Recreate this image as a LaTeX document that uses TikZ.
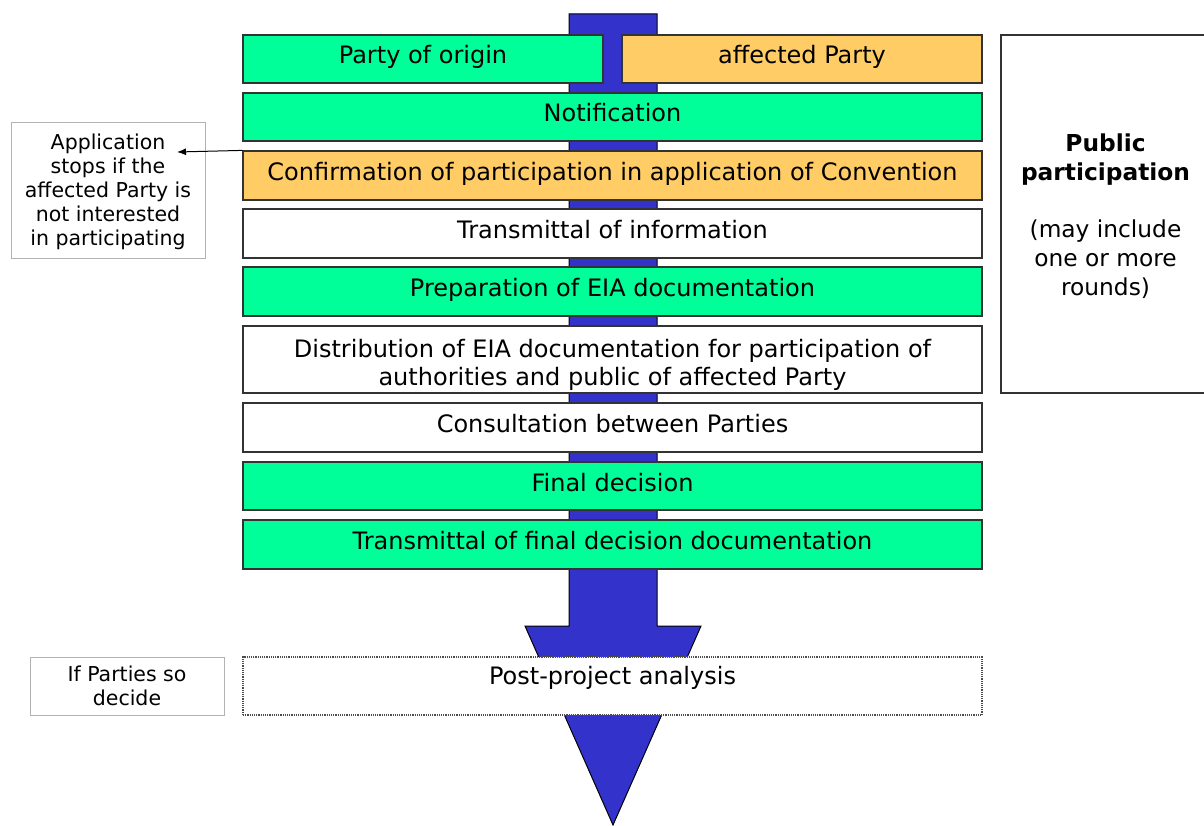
\documentclass[tikz,border=0pt]{standalone}
\usepackage{fontspec}
\setmainfont{DejaVu Sans}
\usetikzlibrary{arrows.meta}
\definecolor{grn}{RGB}{0,255,153}
\definecolor{org}{RGB}{255,204,102}
\definecolor{blu}{RGB}{51,51,204}
\begin{document}
\begin{tikzpicture}[x=1pt,y=-1pt,
  box/.style={draw=black!80, line width=1.2pt, inner sep=0pt, minimum width=739pt, minimum height=#1, align=center, font=\fontsize{24}{28}\selectfont},
  box/.default=48pt,
  onel/.style={text height=18pt, text depth=8pt},
  greenbox/.style={box=#1, fill=grn},
  greenbox/.default=48pt,
  orangebox/.style={box=#1, fill=org},
  orangebox/.default=48pt,
  whitebox/.style={box=#1, fill=white},
  whitebox/.default=48pt,
  notebox/.style={draw=black!30, line width=0.8pt, fill=white, inner sep=0pt, minimum width=194pt, align=center, font=\fontsize{20.5}{24}\selectfont},
  bigarrow/.style={fill=blu, draw=black, line width=1pt, line join=miter}
]
\useasboundingbox (0,0) rectangle (1204,826);
% big arrow
\draw[bigarrow] (569,14) -- (657,14) -- (657,626) -- (701,626) -- (613,825) -- (525,626) -- (569,626) -- cycle;
% boxes
\node[greenbox, onel, minimum width=360pt] (origin) at (423,59) {Party of origin};
\node[orangebox, onel, minimum width=360pt] (affected) at (802,59) {affected Party};
\node[greenbox, onel] (notif) at (612.5,117) {Notification};
\node[orangebox=49pt, onel] (conf) at (612.5,175.5) {Confirmation of participation in application of Convention};
\node[whitebox=49pt, onel] (trans) at (612.5,233.5) {Transmittal of information};
\node[greenbox=49pt, onel] (prep) at (612.5,291.5) {Preparation of EIA documentation};
\node[whitebox=67pt] (dist) at (612.5,359.5) {\rule{0pt}{28pt}Distribution of EIA documentation for participation of\\authorities and public of affected Party};
\node[whitebox=49pt, onel] (cons) at (612.5,427.5) {Consultation between Parties};
\node[greenbox, onel] (final) at (612.5,486) {Final decision};
\node[greenbox=49pt, onel] (tfinal) at (612.5,544.5) {Transmittal of final decision documentation};
\node[box=58pt, fill=white, draw=black!70, densely dotted, text height=18pt, text depth=22pt] (post) at (612.5,686) {Post-project analysis};
% side notes
\node[notebox, minimum height=136pt] (note) at (108,190) {\rule{0pt}{19pt}Application\\stops if the\\affected Party is\\not interested\\in participating};
\node[notebox, minimum height=58pt] (ifp) at (127,686) {If Parties so\\decide};
\node[draw=black!80, line width=1.2pt, fill=white, inner sep=0pt, minimum width=209pt, minimum height=358pt, align=center, font=\fontsize{23.3}{29}\selectfont] (pub) at (1105.5,214) {\rule{0pt}{22pt}\textbf{Public}\\\textbf{participation}\\[28pt](may include\\one or more\\rounds)};
% connector
\coordinate (stop) at (177,152);
\draw[line width=1pt, -{Latex[length=9pt,width=7pt]}] (conf.north west) -- (stop);
\end{tikzpicture}
\end{document}
